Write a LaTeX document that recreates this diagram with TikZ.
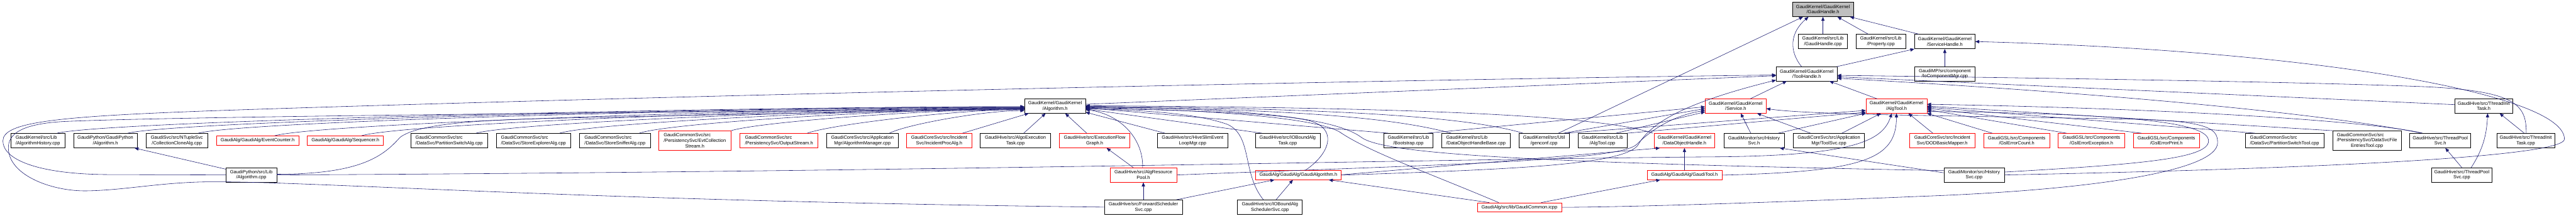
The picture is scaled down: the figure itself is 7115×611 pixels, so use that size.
\documentclass[tikz,border=0pt]{standalone}
\usepackage{fontspec}
\setmainfont{Liberation Sans}
\usetikzlibrary{arrows.meta}
\definecolor{edgecol}{HTML}{191970}
\definecolor{nodered}{HTML}{FF0000}
\definecolor{rootfill}{HTML}{BFBFBF}
\newcommand{\lal}[2]{\makebox[0pt][l]{#1}\phantom{#2}\\#2}
\newcommand{\nd}[7]{\node[#7, minimum width=#3-#2, minimum height=#5-#4] (#1) at ({(#2+#3)/2},{(#4+#5)/2}) {#6};}
\tikzset{
  box/.style={draw=black, line width=1.1pt, inner sep=0pt, align=center, fill=white, font=\fontsize{13}{15}\selectfont},
  redbox/.style={box, draw=nodered},
  rootbox/.style={box, fill=rootfill},
  edge/.style={draw=edgecol, line width=1pt, {Triangle[length=11pt,width=9pt]}-},
}
\begin{document}
\begin{tikzpicture}[x=1pt,y=-1pt]
\fill[white] (0,0) rectangle (7115,611);
\useasboundingbox (0,0) rectangle (7115,611);
% ---------- nodes
\nd{n0}{4951}{5119}{6}{46}{GaudiKernel/GaudiKernel\\/GaudiHandle.h}{rootbox}
\nd{hcpp}{4967}{5103}{95}{135}{GaudiKernel/src/Lib\\/GaudiHandle.cpp}{box}
\nd{prop}{5127}{5263}{95}{135}{GaudiKernel/src/Lib\\/Property.cpp}{box}
\nd{svh}{5288}{5455}{95}{135}{GaudiKernel/GaudiKernel\\/ServiceHandle.h}{box}
\nd{toolh}{4906}{5074}{185}{224}{GaudiKernel/GaudiKernel\\/ToolHandle.h}{box}
\nd{iocm}{5288}{5455}{185}{224}{GaudiMP/src/component\\/IoComponentMgr.cpp}{box}
\nd{algh}{2830}{2998}{274}{313}{GaudiKernel/GaudiKernel\\/Algorithm.h}{box}
\nd{serv}{4710}{4878}{274}{313}{GaudiKernel/GaudiKernel\\/Service.h}{redbox}
\nd{algtoolh}{5154}{5322}{274}{313}{GaudiKernel/GaudiKernel\\/AlgTool.h}{redbox}
\nd{tith}{6780}{6940}{274}{313}{GaudiHive/src/ThreadInit\\Task.h}{box}
\nd{algHist}{30}{179}{369}{409}{\lal{GaudiKernel/src/Lib}{/AlgorithmHistory.cpp}}{box}
\nd{gpyAlgH}{203}{379}{369}{409}{GaudiPython/GaudiPython\\/Algorithm.h}{box}
\nd{ccAlg}{403}{574}{369}{409}{GaudiSvc/src/NTupleSvc\\/CollectionCloneAlg.cpp}{box}
\nd{evCnt}{598}{825}{376}{401}{GaudiAlg/GaudiAlg/EventCounter.h}{redbox}
\nd{seq}{849}{1059}{376}{401}{GaudiAlg/GaudiAlg/Sequencer.h}{redbox}
\nd{psAlg}{1134}{1347}{369}{409}{\lal{GaudiCommonSvc/src}{/DataSvc/PartitionSwitchAlg.cpp}}{box}
\nd{seAlg}{1371}{1576}{369}{409}{\lal{GaudiCommonSvc/src}{/DataSvc/StoreExplorerAlg.cpp}}{box}
\nd{ssAlg}{1601}{1796}{369}{409}{\lal{GaudiCommonSvc/src}{/DataSvc/StoreSnifferAlg.cpp}}{box}
\nd{ecs}{1819}{2019}{362}{416}{\lal{GaudiCommonSvc/src}{/PersistencySvc/EvtCollection}\\Stream.h}{redbox}
\nd{os}{2044}{2259}{369}{409}{\lal{GaudiCommonSvc/src}{/PersistencySvc/OutputStream.h}}{redbox}
\nd{algMgr}{2283}{2481}{369}{409}{GaudiCoreSvc/src/Application\\Mgr/AlgorithmManager.cpp}{box}
\nd{ipa}{2504}{2684}{369}{409}{GaudiCoreSvc/src/Incident\\Svc/IncidentProcAlg.h}{redbox}
\nd{aet}{2707}{2902}{369}{409}{GaudiHive/src/AlgoExecution\\Task.cpp}{box}
\nd{efg}{2926}{3121}{369}{409}{GaudiHive/src/ExecutionFlow\\Graph.h}{redbox}
\nd{hsel}{3196}{3392}{369}{409}{GaudiHive/src/HiveSlimEvent\\LoopMgr.cpp}{box}
\nd{iobt}{3467}{3646}{369}{409}{GaudiHive/src/IOBoundAlg\\Task.cpp}{box}
\nd{boot}{3822}{3958}{369}{409}{GaudiKernel/src/Lib\\/Bootstrap.cpp}{box}
\nd{dohb}{3982}{4171}{369}{409}{\lal{GaudiKernel/src/Lib}{/DataObjectHandleBase.cpp}}{box}
\nd{genc}{4195}{4334}{369}{409}{GaudiKernel/src/Util\\/genconf.cpp}{box}
\nd{atcpp}{4358}{4494}{369}{409}{GaudiKernel/src/Lib\\/AlgTool.cpp}{box}
\nd{doh}{4569}{4736}{369}{409}{GaudiKernel/GaudiKernel\\/DataObjectHandle.h}{redbox}
\nd{hsh}{4761}{4928}{369}{409}{GaudiMonitor/src/History\\Svc.h}{box}
\nd{tsvc}{4953}{5150}{369}{409}{GaudiCoreSvc/src/Application\\Mgr/ToolSvc.cpp}{box}
\nd{dod}{5275}{5454}{369}{409}{GaudiCoreSvc/src/Incident\\Svc/DODBasicMapper.h}{redbox}
\nd{gec}{5479}{5661}{369}{409}{GaudiGSL/src/Components\\/GslErrorCount.h}{redbox}
\nd{gee}{5685}{5868}{369}{409}{GaudiGSL/src/Components\\/GslErrorException.h}{redbox}
\nd{gep}{5892}{6075}{369}{409}{GaudiGSL/src/Components\\/GslErrorPrint.h}{redbox}
\nd{pst}{6201}{6419}{369}{409}{\lal{GaudiCommonSvc/src}{/DataSvc/PartitionSwitchTool.cpp}}{box}
\nd{dsfe}{6443}{6632}{362}{416}{\lal{GaudiCommonSvc/src}{/PersistencySvc/DataSvcFile}\\EntriesTool.cpp}{box}
\nd{tpsh}{6656}{6824}{369}{409}{GaudiHive/src/ThreadPool\\Svc.h}{box}
\nd{titc}{6896}{7056}{369}{409}{GaudiHive/src/ThreadInit\\Task.cpp}{box}
\nd{gpyAlgC}{624}{764}{464}{504}{GaudiPython/src/Lib\\/Algorithm.cpp}{box}
\nd{arp}{3066}{3250}{464}{504}{GaudiHive/src/AlgResource\\Pool.h}{redbox}
\nd{galg}{3468}{3704}{472}{497}{GaudiAlg/GaudiAlg/GaudiAlgorithm.h}{redbox}
\nd{gtool}{4549}{4756}{472}{497}{GaudiAlg/GaudiAlg/GaudiTool.h}{redbox}
\nd{hscpp}{5369}{5536}{464}{504}{GaudiMonitor/src/History\\Svc.cpp}{box}
\nd{tpsc}{6716}{6883}{464}{504}{GaudiHive/src/ThreadPool\\Svc.cpp}{box}
\nd{fss}{3050}{3266}{553}{593}{GaudiHive/src/ForwardScheduler\\Svc.cpp}{box}
\nd{iobs}{3418}{3597}{553}{593}{GaudiHive/src/IOBoundAlg\\SchedulerSvc.cpp}{box}
\nd{gcom}{4080}{4313}{561}{586}{GaudiAlg/src/lib/GaudiCommon.icpp}{redbox}
% ---------- edges into GaudiHandle.h
\draw[edge] (n0.south) -- (hcpp.north);
\draw[edge] ([xshift=40pt]n0.south) -- ([xshift=-35pt]prop.north);
\draw[edge] ([xshift=-10pt]n0.south east) -- ([xshift=12pt]svh.north west);
\draw[edge] ([xshift=-40pt]n0.south) .. controls (4945,90) and (4940,140) .. ([xshift=-14pt]toolh.north);
\draw[edge] ([xshift=-55pt]n0.south) -- ([xshift=-30pt]genc.north east);
% ---------- ServiceHandle.h
\draw[edge] (svh.south west) -- ([xshift=-2pt]toolh.north east);
\draw[edge] (svh.south) -- (iocm.north);
\draw[edge] (svh.east) .. controls (6400,140) and (7083,260) .. (7083,385) .. controls (7083,430) and (6500,465) .. (hscpp.east);
% ---------- ToolHandle.h
\draw[edge] ([yshift=-5pt]toolh.west) -- ([yshift=5pt]algh.east);
\draw[edge] ([xshift=-55pt]toolh.south) -- ([xshift=40pt]serv.north);
\draw[edge] ([xshift=63pt]toolh.south) -- ([xshift=-53pt]algtoolh.north);
\draw[edge] ([yshift=-8pt]toolh.east) -- ([yshift=4pt]tith.west);
\draw[edge] ([yshift=-4pt]toolh.east) .. controls (5800,218) and (6400,228) .. (6700,240) .. controls (6950,252) and (6978,290) .. ([xshift=82pt]titc.north west);
\draw[edge] ([yshift=-12pt]toolh.east) .. controls (5900,262) and (6450,320) .. ([xshift=33pt]tpsh.north west);
\draw[edge] ([yshift=3pt]toolh.south west) .. controls (4650,285) and (4560,340) .. (4525,400) .. controls (4490,455) and (4200,468) .. (galg.east);
\draw[edge] ([yshift=-3pt]toolh.west) .. controls (3500,225) and (1500,275) .. (600,306) .. controls (150,322) and (8,338) .. (8,390) .. controls (8,440) and (100,482) .. (300,483) -- (gpyAlgC.west);
% ---------- Algorithm.h
\draw[edge] ([yshift=-8pt]algh.west) .. controls (1800,310) and (500,322) .. (180,336) .. controls (40,343) and (18,380) .. (24,420) .. controls (35,490) and (150,530) .. (241,528) .. controls (350,526) and (450,503) .. (590,503) .. controls (900,503) and (1600,556) .. (fss.west);
\draw[edge] ([yshift=-10pt]algh.west) .. controls (2600,306) and (2200,312) .. (1500,328) .. controls (1300,333) and (1150,345) .. (1105,380) .. controls (1060,430) and (1000,482) .. ([yshift=2pt]gpyAlgC.east);
\draw[edge] ([yshift=-1.5pt]algh.west) .. controls +(-800,0) and +(150,-35) .. ([xshift=-22pt]algHist.north east);
\draw[edge] ([yshift=-2.5pt]algh.west) .. controls +(-750,0) and +(150,-35) .. ([xshift=-27pt]gpyAlgH.north east);
\draw[edge] ([yshift=-3.5pt]algh.west) .. controls +(-700,0) and +(140,-35) .. ([xshift=-27pt]ccAlg.north east);
\draw[edge] ([yshift=-4.5pt]algh.west) .. controls +(-620,0) and +(130,-35) .. ([xshift=-67pt]evCnt.north east);
\draw[edge] ([yshift=-5.5pt]algh.west) .. controls +(-550,0) and +(120,-35) .. ([xshift=-61pt]seq.north east);
\draw[edge] ([yshift=-6.5pt]algh.west) .. controls +(-450,0) and +(110,-30) .. ([xshift=-33pt]psAlg.north east);
\draw[edge] ([yshift=-7pt]algh.west) .. controls +(-380,0) and +(100,-30) .. ([xshift=-31pt]seAlg.north east);
\draw[edge] ([yshift=-7.5pt]algh.west) .. controls +(-320,0) and +(90,-30) .. ([xshift=-31pt]ssAlg.north east);
\draw[edge] ([yshift=-8.5pt]algh.west) .. controls +(-250,0) and +(80,-25) .. (ecs.north east);
\draw[edge] ([yshift=-9.5pt]algh.west) .. controls +(-180,0) and +(70,-25) .. ([xshift=-30pt]os.north east);
\draw[edge] ([yshift=-12.5pt]algh.west) .. controls +(-110,0) and +(50,-25) .. ([xshift=-25pt]algMgr.north east);
\draw[edge] ([xshift=12pt]algh.south west) -- ([xshift=-26pt]ipa.north east);
\draw[edge] ([xshift=-26pt]algh.south) -- ([xshift=-75pt]aet.north east);
\draw[edge] ([xshift=28pt]algh.south) -- ([xshift=76pt]efg.north west);
\draw[edge] ([yshift=3pt]algh.south east) -- ([xshift=22pt]hsel.north west);
\draw[edge] ([yshift=-8pt]algh.east) -- ([xshift=19pt]iobt.north west);
\draw[edge] ([yshift=-5pt]algh.east) -- ([xshift=13pt]boot.north west);
\draw[edge] ([yshift=-3pt]algh.east) .. controls +(600,5) and +(-150,-40) .. ([xshift=27pt]dohb.north west);
\draw[edge] ([yshift=-1pt]algh.east) .. controls +(700,5) and +(-150,-45) .. ([xshift=12pt]genc.north west);
\draw[edge] ([yshift=1pt]algh.east) .. controls +(900,5) and +(-150,-50) .. ([xshift=-3pt]doh.north west);
\draw[edge] ([yshift=-10pt]algh.east) .. controls (3090,315) and (3158,380) .. ([xshift=-2pt]arp.north);
\draw[edge] ([yshift=-7pt]algh.east) .. controls (3150,305) and (3300,312) .. (3390,344) .. controls (3460,375) and (3430,480) .. ([xshift=72pt]iobs.north west);
\draw[edge] ([yshift=-6pt]algh.east) .. controls (3300,305) and (3550,315) .. (3620,335) .. controls (3690,355) and (3680,420) .. ([xshift=19pt]galg.north);
\draw[edge] ([yshift=-4pt]algh.east) .. controls (3400,305) and (3640,330) .. (3700,365) .. controls (3780,420) and (3950,480) .. ([xshift=60pt]gcom.north west);
\draw[edge] ([yshift=-2pt]algh.east) .. controls (3400,300) and (3680,320) .. (3760,380) .. controls (3820,425) and (4200,450) .. ([yshift=12pt]hscpp.west);
% ---------- Service.h
\draw[edge] ([xshift=14pt]serv.south) -- ([xshift=-9pt]hsh.north);
\draw[edge] ([xshift=59pt]serv.south) -- ([xshift=-51pt]tsvc.north);
\draw[edge] ([yshift=-12pt]serv.west) .. controls (4620,320) and (4560,360) .. (4520,400) .. controls (4470,445) and (4000,455) .. (arp.east);
\draw[edge] ([yshift=-7pt]serv.west) -- ([xshift=-16pt]genc.north east);
\draw[edge] ([yshift=-16pt]serv.west) -- ([xshift=-31pt]atcpp.north east);
\draw[edge] ([yshift=-2pt]serv.west) -- ([xshift=-16pt]boot.north east);
\draw[edge] ([yshift=-7pt]serv.east) .. controls (5000,318) and (5400,320) .. (5900,330) .. controls (6110,335) and (6125,360) .. (6125,395) .. controls (6125,470) and (5800,525) .. (5310,543) .. controls (4900,560) and (4500,573) .. (gcom.east);
% ---------- AlgTool.h
\draw[edge] ([xshift=33pt]algtoolh.south) -- ([xshift=64pt]dod.north west);
\draw[edge] (algtoolh.south east) -- ([xshift=24pt]gec.north west);
\draw[edge] ([yshift=-10pt]algtoolh.east) -- ([xshift=23pt]gee.north west);
\draw[edge] ([yshift=-6pt]algtoolh.east) -- ([xshift=23pt]gep.north west);
\draw[edge] ([yshift=-3pt]algtoolh.east) -- ([xshift=28pt]pst.north west);
\draw[edge] (algtoolh.east) -- (dsfe.north west);
\draw[edge] ([yshift=5pt]algtoolh.east) .. controls (6000,300) and (6550,335) .. ([xshift=36pt]tpsh.north west);
\draw[edge] (algtoolh.south west) -- ([xshift=-17pt]hsh.north east);
\draw[edge] ([xshift=-43pt]algtoolh.south) -- ([xshift=-63pt]tsvc.north east);
\draw[edge] ([yshift=-12pt]algtoolh.west) -- ([xshift=-10pt]genc.north east);
\draw[edge] ([yshift=-17pt]algtoolh.west) -- (atcpp.north east);
\draw[edge] (algtoolh.south) .. controls (5238,440) and (5150,475) .. (gtool.east);
\draw[edge] ([xshift=-13pt]algtoolh.south) .. controls (5200,390) and (5120,432) .. (4720,434) .. controls (4000,440) and (2500,476) .. (gpyAlgC.east);
\draw[edge] ([yshift=-15pt]algtoolh.east) .. controls (5900,315) and (6100,340) .. (6100,390) .. controls (6100,440) and (5900,455) .. ([yshift=8pt]hscpp.east);
% ---------- others
\draw[edge] ([xshift=44pt]tith.south) -- ([xshift=-4pt]titc.north);
\draw[edge] ([xshift=11pt]tith.south) .. controls (6868,370) and (6860,410) .. ([xshift=26pt]tpsc.north);
\draw[edge] ([xshift=14pt]tpsh.south) -- (tpsc.north);
\draw[edge] ([xshift=33pt]efg.south) -- ([xshift=-28pt]arp.north);
\draw[edge] (arp.south) -- (fss.north);
\draw[edge] ([xshift=-66pt]galg.south) -- ([xshift=-17pt]fss.north east);
\draw[edge] ([xshift=-15pt]galg.south) -- ([xshift=-73pt]iobs.north east);
\draw[edge] ([xshift=84pt]galg.south) -- ([xshift=34pt]gcom.north west);
\draw[edge] ([xshift=-67pt]gtool.south) -- ([xshift=-57pt]gcom.north east);
\draw[edge] (doh.south) -- (gtool.north);
\draw[edge] ([xshift=16pt]doh.south west) -- ([yshift=1pt]galg.east);
\draw[edge] ([xshift=-8pt]gpyAlgH.south east) -- ([yshift=16pt]gpyAlgC.west);
\draw[edge] ([xshift=-13pt]hsh.south east) -- ([yshift=6pt]hscpp.west);
\end{tikzpicture}
\end{document}
